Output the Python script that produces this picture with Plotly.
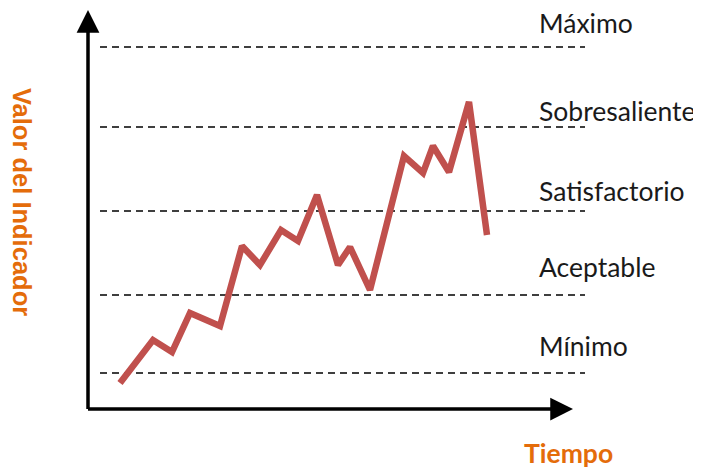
import plotly.graph_objects as go

# Data (arbitrary units)
tiempo = [3.2, 6.5, 8.4, 10.2, 13.2, 15.4, 17.2, 19.3, 21.0, 22.9, 25.0, 26.2,
          28.2, 31.6, 33.5, 34.5, 36.1, 38.1, 39.9]
valor = [2.6, 6.9, 5.7, 9.6, 8.3, 16.3, 14.4, 17.9, 16.8, 21.4, 14.4, 16.2,
         11.9, 25.3, 23.6, 26.3, 23.7, 30.7, 17.4]

nivel_nombres = ["Máximo", "Sobresaliente", "Satisfactorio", "Aceptable", "Mínimo"]
nivel_valores = [36.2, 28.2, 19.8, 11.4, 3.6]
nivel_etiqueta_y = [38.6, 29.8, 21.8, 14.2, 6.3]

# page body has an 8px margin: figure covers screen px 8..701 x 8..468
X_RANGE = [-8.0, 61.3]
Y_RANGE = [-5.9, 40.1]

fig = go.Figure()

for v in nivel_valores:
    fig.add_trace(go.Scatter(x=[1.2, 49.7], y=[v, v], mode="lines",
                             line=dict(color="black", width=1.7, dash="7px,5px"),
                             hoverinfo="skip", showlegend=False))

fig.add_trace(go.Scatter(x=tiempo, y=valor, mode="lines",
                         line=dict(color="#C0504D", width=6.5),
                         showlegend=False))

annotations = []
for name, yl in zip(nivel_nombres, nivel_etiqueta_y):
    annotations.append(dict(x=44.9, y=yl, xref="x", yref="y", text=name,
                            showarrow=False, xanchor="left", yanchor="middle",
                            font=dict(family="Lato", size=26.5, color="#1a1a1a")))

annotations.append(dict(x=0, y=39.9, ax=0, ay=-0.15, xref="x", yref="y",
                        axref="x", ayref="y", text="", showarrow=True,
                        arrowhead=2, arrowsize=1.3, arrowwidth=3.5, arrowcolor="black"))
annotations.append(dict(x=48.5, y=0, ax=-0.15, ay=0, xref="x", yref="y",
                        axref="x", ayref="y", text="", showarrow=True,
                        arrowhead=2, arrowsize=1.3, arrowwidth=3.5, arrowcolor="black"))

annotations.append(dict(x=-6.6, y=20.7, xref="x", yref="y", text="<b>Valor del Indicador</b>",
                        showarrow=False, textangle=90,
                        font=dict(family="Liberation Sans", size=25.5, color="#E46C0A")))
annotations.append(dict(x=48.0, y=-4.4, xref="x", yref="y", text="<b>Tiempo</b>",
                        showarrow=False,
                        font=dict(family="Lato", size=26.5, color="#E46C0A")))

fig.update_layout(
    width=693, height=460,
    margin=dict(l=0, r=0, t=0, b=0),
    paper_bgcolor="white", plot_bgcolor="white",
    xaxis=dict(range=X_RANGE, visible=False, fixedrange=True),
    yaxis=dict(range=Y_RANGE, visible=False, fixedrange=True),
    annotations=annotations,
    showlegend=False,
)

fig.write_html("out.html")
